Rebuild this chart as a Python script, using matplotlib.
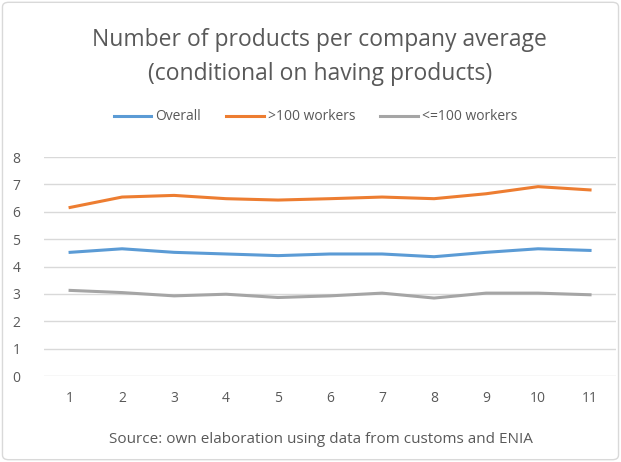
import matplotlib
matplotlib.use("Agg")
import matplotlib.pyplot as plt
from matplotlib.patches import FancyBboxPatch

categories = [1, 2, 3, 4, 5, 6, 7, 8, 9, 10, 11]
overall = [4.52, 4.65, 4.52, 4.46, 4.40, 4.46, 4.46, 4.36, 4.52, 4.65, 4.59]
large = [6.16, 6.54, 6.60, 6.48, 6.43, 6.48, 6.54, 6.48, 6.66, 6.92, 6.80]
small = [3.13, 3.05, 2.93, 2.99, 2.87, 2.93, 3.03, 2.85, 3.03, 3.03, 2.97]
yticks = [0, 1, 2, 3, 4, 5, 6, 7, 8]

plt.rcParams['font.family'] = ['Open Sans', 'DejaVu Sans']
txt = '#595959'

fig = plt.figure(figsize=(6.21, 4.62), dpi=100)
ax = fig.add_axes([0.071, 0.186, 0.921, 0.474])

ax.plot(categories, overall, color='#5B9BD5', lw=2.2, label='Overall')
ax.plot(categories, large, color='#ED7D31', lw=2.2, label='>100 workers')
ax.plot(categories, small, color='#A5A5A5', lw=2.2, label='<=100 workers')

ax.set_xlim(0.5, 11.5)
ax.set_ylim(0, 8)
ax.set_yticks(yticks)
ax.set_xticks(categories)
ax.grid(axis='y', color='#D9D9D9', lw=1)
ax.set_axisbelow(True)
for s in ax.spines.values():
    s.set_visible(False)
ax.tick_params(length=0, colors=txt, labelsize=10)
ax.tick_params(axis='y', pad=17)
ax.tick_params(axis='x', pad=11)

fig.text(0.515, 0.913, 'Number of products per company average', ha='center', va='center',
         fontsize=16.5, color=txt)
fig.text(0.515, 0.84, '(conditional on having products)', ha='center', va='center',
         fontsize=16.5, color=txt)

fig.legend(loc='center', bbox_to_anchor=(0.508, 0.747), ncol=3, frameon=False,
           fontsize=10, labelcolor=txt, handlelength=2.7, columnspacing=1.8,
           handletextpad=0.3)

fig.text(0.517, 0.048, 'Source: own elaboration using data from customs and ENIA',
         ha='center', va='center', fontsize=11, color=txt)

border = FancyBboxPatch((0.004, 0.005), 0.992, 0.99, boxstyle='round,pad=0,rounding_size=0.01',
                        transform=fig.transFigure, fill=False, edgecolor='#D9D9D9', lw=1)
fig.patches.append(border)

fig.savefig('out.png', dpi=100)
